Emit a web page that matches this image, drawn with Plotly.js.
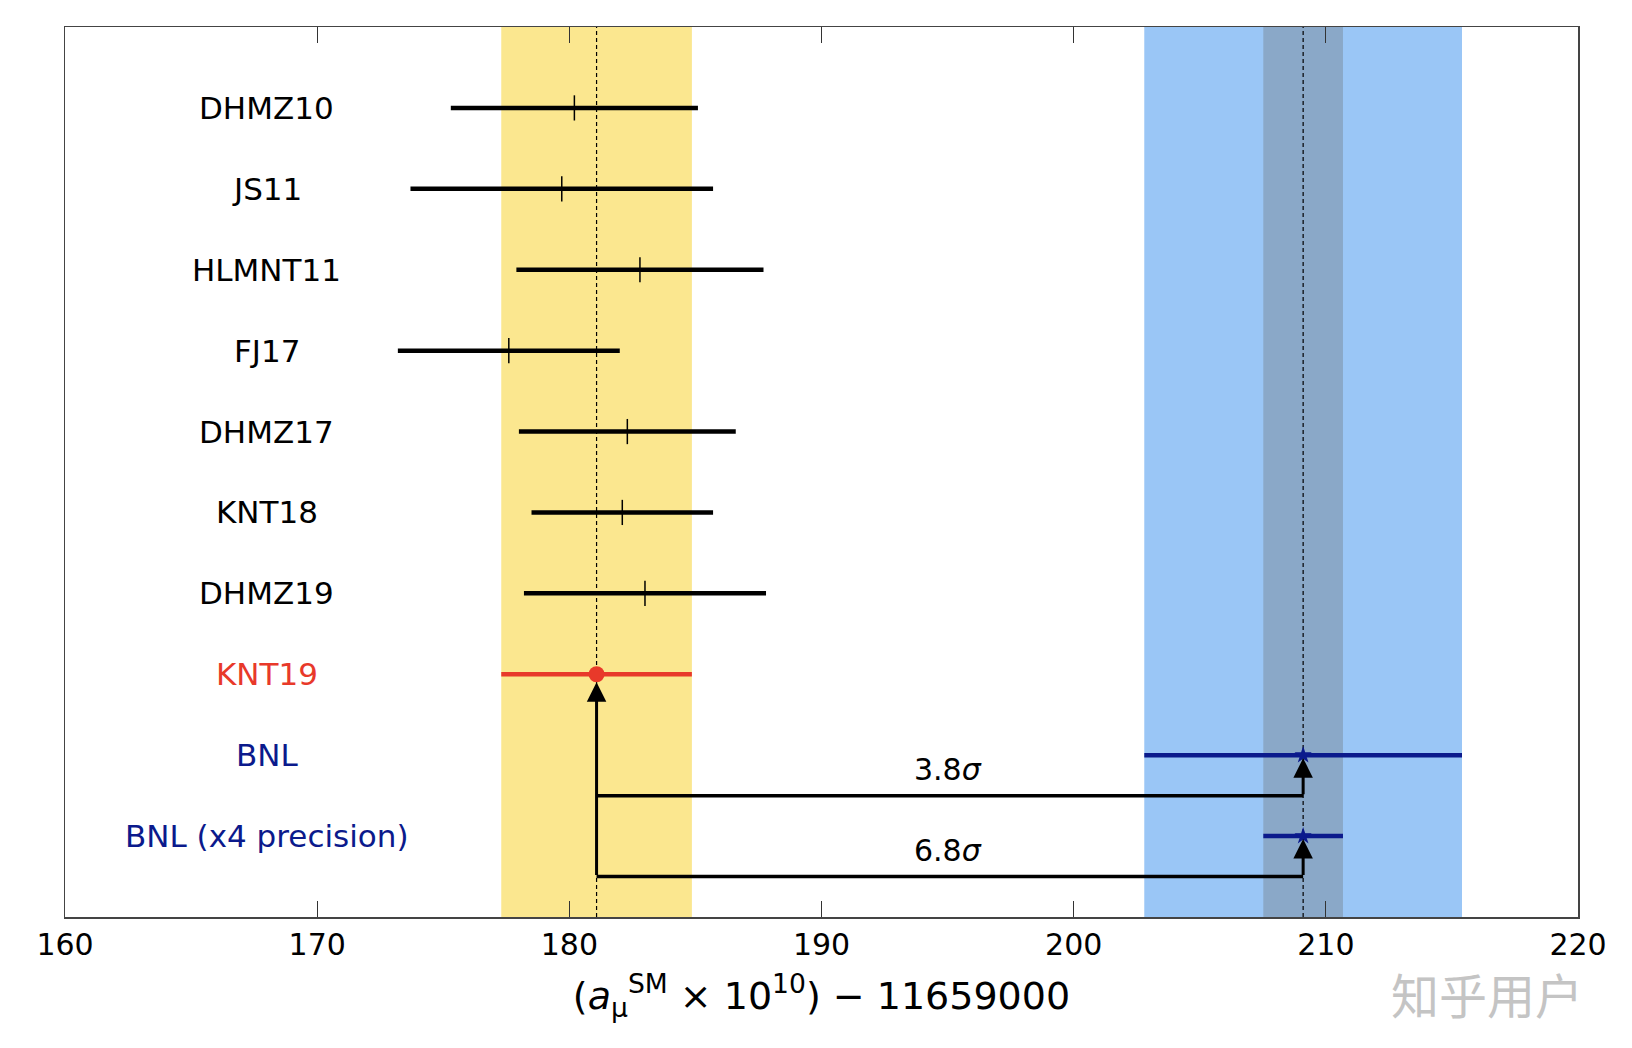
<!DOCTYPE html>
<html>
<head>
<meta charset="utf-8">
<script src="https://cdn.plot.ly/plotly-3.0.1.min.js"></script>
<style>
  html, body { margin: 0; padding: 0; background: #ffffff; }
  #chart { width: 1632px; height: 1048px; }
</style>
</head>
<body>
<div id="chart"></div>
<script>
// ---- Data ----
const evalNames  = ["DHMZ10", "JS11", "HLMNT11", "FJ17", "DHMZ17", "KNT18", "DHMZ19"];
const evalValues = [180.2, 179.7, 182.8, 177.6, 182.3, 182.1, 183.0];
const evalErrors = [4.9, 6.0, 4.9, 4.4, 4.3, 3.6, 4.8];

const kntName  = "KNT19";
const kntValue = 181.08;
const kntError = 3.78;

const bnlNames  = ["BNL", "BNL (x4 precision)"];
const bnlValues = [209.1, 209.1];
const bnlErrors = [6.3, 1.58];

const sigmaLabels = ["3.8σ", "6.8σ"];
const sigmaLabelX = [195.0, 195.0];

const xTicks = [160, 170, 180, 190, 200, 210, 220];

// ---- Row positions (1 = top row) ----
const allNames = evalNames.concat([kntName], bnlNames);
const rowOf = (i) => i + 1;
const evalRows = evalNames.map((_, i) => rowOf(i));
const kntRow = rowOf(evalNames.length);
const bnlRows = bnlNames.map((_, i) => rowOf(evalNames.length + 1 + i));
const sigmaRows = bnlRows.map(r => r + 0.5);

const FONT = "DejaVu Sans, Verdana, sans-serif";
const NAVY = "#0b1a8c";
const RED = "#e8392a";

const traces = [];

// Evaluations: black error bars with thin centre tick
traces.push({
  type: "scatter", mode: "markers",
  x: evalValues, y: evalRows,
  error_x: { type: "data", array: evalErrors, visible: true, color: "#000000", thickness: 4.5, width: 0 },
  marker: { symbol: "line-ns", size: 18, color: "#000000", line: { color: "#000000", width: 1.5 } },
  hoverinfo: "skip", showlegend: false
});

// KNT19
traces.push({
  type: "scatter", mode: "markers",
  x: [kntValue], y: [kntRow],
  error_x: { type: "data", array: [kntError], visible: true, color: RED, thickness: 4.5, width: 0 },
  marker: { symbol: "circle", size: 16, color: RED },
  hoverinfo: "skip", showlegend: false
});

// BNL rows
traces.push({
  type: "scatter", mode: "markers",
  x: bnlValues, y: bnlRows,
  error_x: { type: "data", array: bnlErrors, visible: true, color: NAVY, thickness: 4.5, width: 0 },
  marker: { symbol: "star", size: 13, color: NAVY },
  hoverinfo: "skip", showlegend: false
});

// Horizontal connector lines of the significance arrows
sigmaRows.forEach((r, i) => {
  traces.push({
    type: "scatter", mode: "lines",
    x: [kntValue, bnlValues[i]], y: [r, r],
    line: { color: "#000000", width: 3.5 },
    hoverinfo: "skip", showlegend: false
  });
});

// ---- Shapes: bands and dashed reference lines ----
const shapes = [
  { type: "rect", xref: "x", yref: "paper", x0: kntValue - kntError, x1: kntValue + kntError, y0: 0, y1: 1,
    fillcolor: "#fbe78f", line: { width: 0 }, layer: "below" },
  { type: "rect", xref: "x", yref: "paper", x0: bnlValues[0] - bnlErrors[0], x1: bnlValues[0] + bnlErrors[0], y0: 0, y1: 1,
    fillcolor: "#9ac6f6", line: { width: 0 }, layer: "below" },
  { type: "rect", xref: "x", yref: "paper", x0: bnlValues[1] - bnlErrors[1], x1: bnlValues[1] + bnlErrors[1], y0: 0, y1: 1,
    fillcolor: "#8aa8c8", line: { width: 0 }, layer: "below" },
  { type: "line", xref: "x", yref: "paper", x0: kntValue, x1: kntValue, y0: 0, y1: 1,
    line: { color: "#000000", width: 1.2, dash: "4px,3px" }, layer: "below" },
  { type: "line", xref: "x", yref: "paper", x0: bnlValues[0], x1: bnlValues[0], y0: 0, y1: 1,
    line: { color: "#000000", width: 1.2, dash: "4px,3px" }, layer: "below" }
];

// ---- Annotations ----
const annotations = [];

// Row labels
allNames.forEach((name, i) => {
  let color = "#000000";
  if (name === kntName) color = RED;
  if (bnlNames.indexOf(name) >= 0) color = NAVY;
  annotations.push({
    x: 168, y: rowOf(i), xref: "x", yref: "y", text: name, showarrow: false,
    xanchor: "center", yanchor: "middle",
    font: { family: FONT, size: 31, color: color }
  });
});

// Left arrow from lowest connector up to KNT19
annotations.push({
  x: kntValue, y: kntRow, ax: kntValue, ay: sigmaRows[sigmaRows.length - 1],
  xref: "x", yref: "y", axref: "x", ayref: "y",
  text: "", showarrow: true, arrowhead: 2, arrowsize: 1.3, arrowwidth: 3, arrowcolor: "#000000",
  standoff: 8
});

// Right arrows up to BNL points
sigmaRows.forEach((r, i) => {
  annotations.push({
    x: bnlValues[i], y: bnlRows[i], ax: bnlValues[i], ay: r,
    xref: "x", yref: "y", axref: "x", ayref: "y",
    text: "", showarrow: true, arrowhead: 2, arrowsize: 1.3, arrowwidth: 3, arrowcolor: "#000000",
    standoff: 3
  });
  annotations.push({
    x: sigmaLabelX[i], y: r - 0.32, xref: "x", yref: "y",
    text: sigmaLabels[i].replace("σ", "<i>σ</i>"), showarrow: false,
    xanchor: "center", yanchor: "middle",
    font: { family: FONT, size: 30, color: "#000000" }
  });
});

const W = 1632, H = 1048;
const mL = 65, mR = 54, mT = 27, mB = 131;

// Watermark (positioned in pixels, converted to paper coordinates)
annotations.push({
  x: (1487 - mL) / (W - mL - mR), y: (H - mB - 993) / (H - mT - mB),
  xref: "paper", yref: "paper", text: "知乎用户", showarrow: false,
  xanchor: "center", yanchor: "middle",
  font: { family: "Noto Sans CJK SC", size: 48, color: "#c4c4c4" }
});

const layout = {
  width: W, height: H,
  margin: { l: mL, r: mR, t: mT, b: mB, pad: 0 },
  paper_bgcolor: "#ffffff", plot_bgcolor: "#ffffff",
  showlegend: false,
  font: { family: FONT, color: "#000000" },
  xaxis: {
    range: [xTicks[0], xTicks[xTicks.length - 1]],
    tickvals: xTicks, ticktext: xTicks.map(String),
    ticks: "inside", ticklen: 16, tickwidth: 1.2, tickcolor: "#333333",
    showline: true, linecolor: "#444444", linewidth: 1.5, mirror: "allticks",
    showgrid: false, zeroline: false,
    tickfont: { family: FONT, size: 30, color: "#000000" },
    ticklabelstandoff: 0,
    title: {
      text: "(<i>a</i><sub>μ</sub><sup>SM</sup> × 10<sup>10</sup>) − 11659000",
      font: { family: FONT, size: 38, color: "#000000" },
      standoff: 22
    }
  },
  yaxis: {
    range: [allNames.length + 1, 0],
    showticklabels: false, ticks: "",
    showline: true, linecolor: "#444444", linewidth: 1.5, mirror: true,
    showgrid: false, zeroline: false
  },
  shapes: shapes,
  annotations: annotations
};

Plotly.newPlot("chart", traces, layout, { staticPlot: true, displayModeBar: false });
</script>
</body>
</html>
